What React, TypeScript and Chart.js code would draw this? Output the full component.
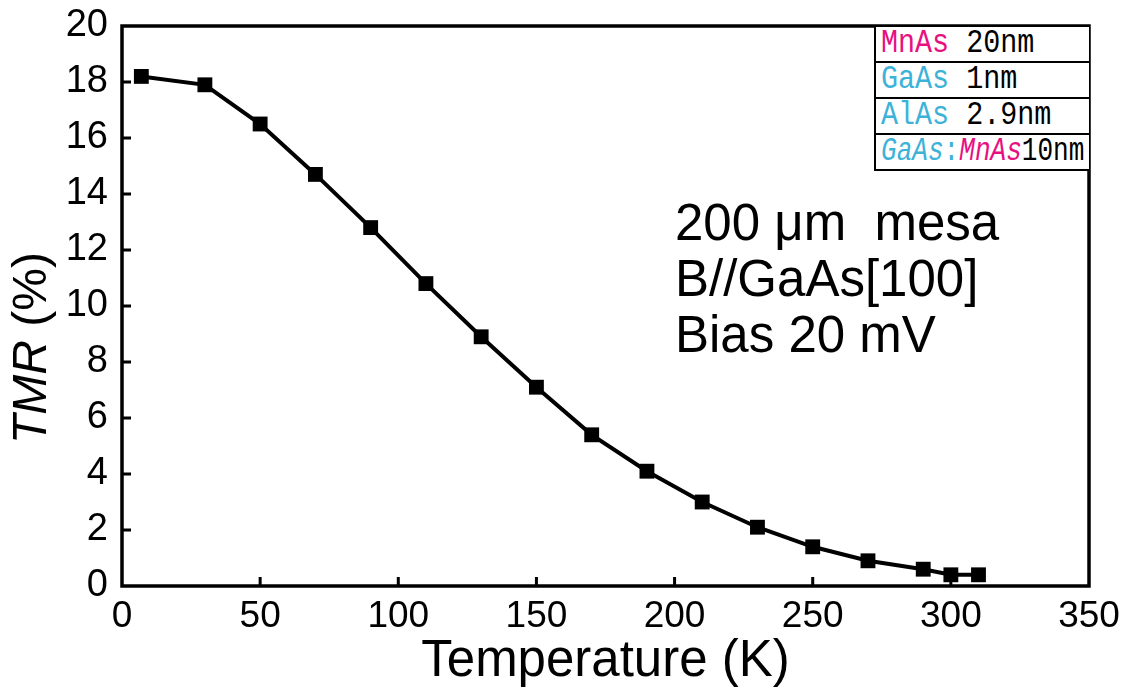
import React, { useEffect, useRef } from "react";
import { Chart, registerables } from "chart.js";

Chart.register(...registerables);

// ---- data ----
const temperatures = [7, 30, 50, 70, 90, 110, 130, 150, 170, 190, 210, 230, 250, 270, 290, 300, 310];
const tmrValues = [18.2, 17.9, 16.5, 14.7, 12.8, 10.8, 8.9, 7.1, 5.4, 4.1, 3.0, 2.1, 1.4, 0.9, 0.6, 0.4, 0.4];
const xTickValues = [0, 50, 100, 150, 200, 250, 300, 350];
const yTickValues = [0, 2, 4, 6, 8, 10, 12, 14, 16, 18, 20];
const xAxisTitle = "Temperature (K)";
const yAxisTitleItalic = "TMR";
const yAxisTitleRest = " (%)";
const conditionLines = ["200 \u03bcm\u00a0 mesa", "B//GaAs[100]", "Bias 20 mV"];

const MAGENTA = "#e8107f";
const CYAN = "#3db2d8";

type Seg = { text: string; color: string; italic?: boolean };
const layerRows: Seg[][] = [
  [{ text: "MnAs", color: MAGENTA }, { text: " 20nm", color: "#000" }],
  [{ text: "GaAs", color: CYAN }, { text: " 1nm", color: "#000" }],
  [{ text: "AlAs", color: CYAN }, { text: " 2.9nm", color: "#000" }],
  [
    { text: "GaAs", color: CYAN, italic: true },
    { text: ":", color: CYAN },
    { text: "MnAs", color: MAGENTA, italic: true },
    { text: "10nm", color: "#000" },
  ],
];
const layerRowScale = [0.86, 0.86, 0.86, 0.79];

const FONT = "'Liberation Sans', Arial, Helvetica, sans-serif";

const framePlugin = {
  id: "frameAndTicks",
  afterDraw(chart: any) {
    const { ctx, chartArea: a, scales } = chart;
    ctx.save();
    ctx.strokeStyle = "#000";
    ctx.lineWidth = 3.5;
    ctx.strokeRect(a.left, a.top, a.right - a.left, a.bottom - a.top);
    ctx.beginPath();
    for (const t of scales.x.ticks) {
      const px = scales.x.getPixelForValue(t.value);
      if (px <= a.left + 2 || px >= a.right - 2) continue;
      ctx.moveTo(px, a.bottom);
      ctx.lineTo(px, a.bottom - 9);
    }
    for (const t of scales.y.ticks) {
      const py = scales.y.getPixelForValue(t.value);
      if (py <= a.top + 2 || py >= a.bottom - 2) continue;
      ctx.moveTo(a.left, py);
      ctx.lineTo(a.left + 9, py);
    }
    ctx.lineWidth = 3;
    ctx.stroke();

    // y axis title with italic part
    const size = 48;
    ctx.fillStyle = "#000";
    ctx.textBaseline = "middle";
    ctx.textAlign = "left";
    ctx.font = `italic ${size}px ${FONT}`;
    const w1 = ctx.measureText(yAxisTitleItalic).width;
    ctx.font = `${size}px ${FONT}`;
    const w2 = ctx.measureText(yAxisTitleRest).width;
    const total = w1 + w2;
    ctx.translate(33, a.top + (a.bottom - a.top) * 0.575);
    ctx.rotate(-Math.PI / 2);
    ctx.font = `italic ${size}px ${FONT}`;
    ctx.fillText(yAxisTitleItalic, -total / 2, 0);
    ctx.font = `${size}px ${FONT}`;
    ctx.fillText(yAxisTitleRest, -total / 2 + w1, 0);
    ctx.restore();
  },
};

function TmrChart() {
  const ref = useRef<HTMLCanvasElement | null>(null);
  useEffect(() => {
    if (!ref.current) return;
    const chart = new Chart(ref.current, {
      type: "line",
      data: {
        datasets: [
          {
            data: temperatures.map((t, i) => ({ x: t, y: tmrValues[i] })),
            borderColor: "#000",
            backgroundColor: "#000",
            borderWidth: 4,
            pointStyle: "rect",
            pointRadius: 10.5,
            pointBackgroundColor: "#000",
            pointBorderWidth: 0,
            tension: 0,
            fill: false,
          },
        ],
      },
      options: {
        responsive: false,
        animation: false,
        devicePixelRatio: 1,
        layout: { padding: { top: 26, right: 52, left: 0, bottom: 0 } },
        plugins: { legend: { display: false }, tooltip: { enabled: false } },
        scales: {
          x: {
            type: "linear",
            min: 0,
            max: 350,
            afterBuildTicks: (s: any) => {
              s.ticks = xTickValues.map((v) => ({ value: v }));
            },
            afterFit: (s: any) => {
              s.height = 107;
              s.paddingLeft = 0;
              s.paddingRight = 0;
            },
            grid: { display: false, drawTicks: false },
            border: { display: false },
            ticks: {
              color: "#000",
              font: { family: FONT, size: 37 },
              padding: 9,
              maxRotation: 0,
              autoSkip: false,
            },
            title: {
              display: true,
              text: xAxisTitle,
              color: "#000",
              font: { family: FONT, size: 51 },
              padding: { top: 0, bottom: 0 },
            },
          },
          y: {
            type: "linear",
            min: 0,
            max: 20,
            afterBuildTicks: (s: any) => {
              s.ticks = yTickValues.map((v) => ({ value: v }));
            },
            afterFit: (s: any) => {
              s.width = 122;
              s.paddingTop = 0;
              s.paddingBottom = 0;
            },
            grid: { display: false, drawTicks: false },
            border: { display: false },
            ticks: {
              color: "#000",
              font: { family: FONT, size: 38 },
              padding: 14,
              autoSkip: false,
            },
          },
        },
      },
      plugins: [framePlugin],
    } as any);
    return () => chart.destroy();
  }, []);
  return <canvas ref={ref} width={1141} height={693} style={{ display: "block", width: 1141, height: 693 }} />;
}

export default function App() {
  return (
    <div style={{ position: "absolute", left: 0, top: 0, width: 1141, height: 693, background: "#fff", overflow: "hidden" }}>
      <TmrChart />
      <div
        style={{
          position: "absolute",
          left: 675,
          top: 195,
          fontFamily: FONT,
          fontSize: 51,
          lineHeight: "56px",
          color: "#000",
          whiteSpace: "pre",
        }}
      >
        {conditionLines.map((l, i) => (
          <div key={i}>{l}</div>
        ))}
      </div>
      <div
        style={{
          position: "absolute",
          left: 874,
          top: 25,
          width: 215,
          boxSizing: "border-box",
          border: "2px solid #000",
          borderRight: "none",
          background: "#fff",
        }}
      >
        {layerRows.map((row, i) => (
          <div
            key={i}
            style={{
              height: 34,
              lineHeight: "34px",
              paddingLeft: 5,
              borderBottom: i < layerRows.length - 1 ? "2px solid #000" : "none",
              fontFamily: "'Liberation Mono', 'DejaVu Sans Mono', monospace",
              fontSize: 33,
              whiteSpace: "pre",
              overflow: "hidden",
            }}
          >
            <span
              style={{
                display: "inline-block",
                transform: `scaleX(${layerRowScale[i]})`,
                transformOrigin: "left center",
              }}
            >
              {row.map((s, j) => (
                <span key={j} style={{ color: s.color, fontStyle: s.italic ? "italic" : "normal" }}>
                  {s.text}
                </span>
              ))}
            </span>
          </div>
        ))}
      </div>
    </div>
  );
}
